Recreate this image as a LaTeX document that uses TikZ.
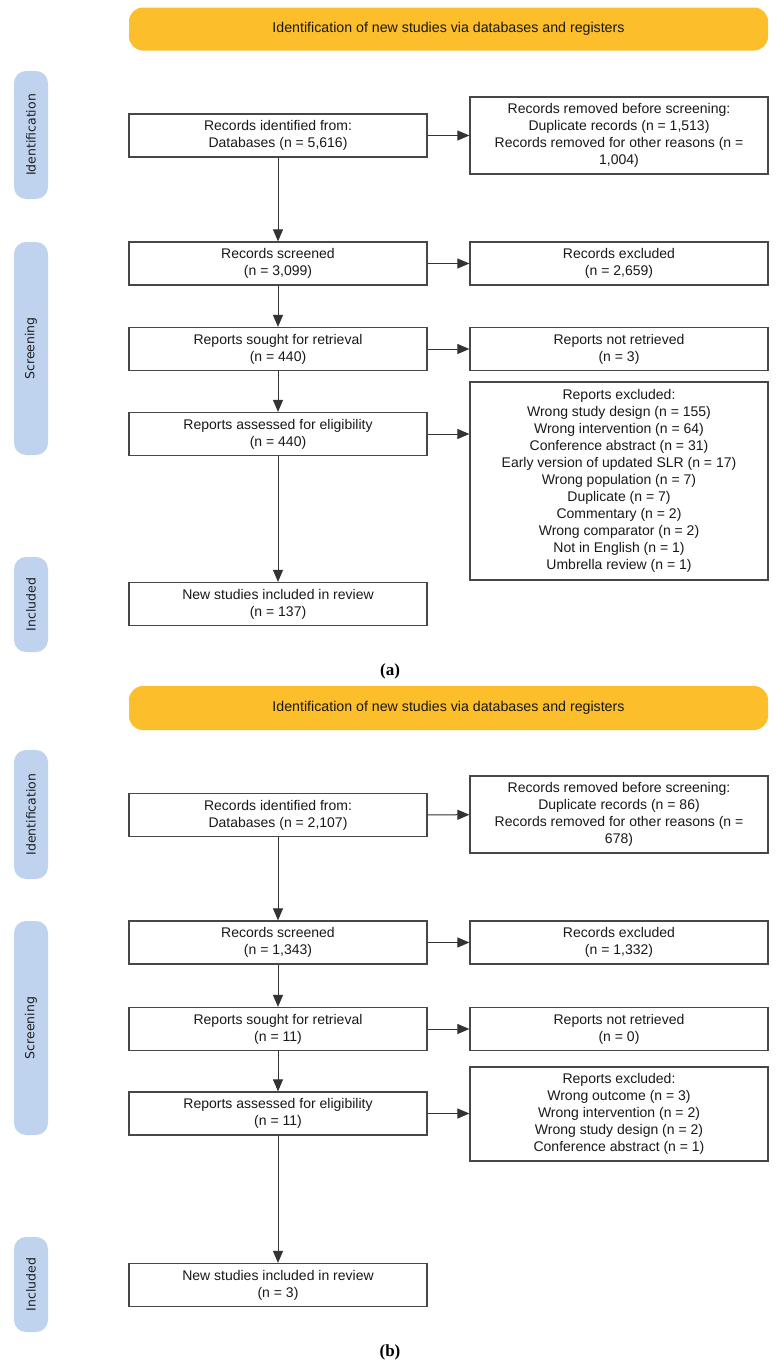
\documentclass[tikz,border=0pt]{standalone}
\usepackage{fontspec}
\setmainfont{Liberation Serif}
\newfontfamily\boxfont{Liberation Sans}
\newfontfamily\sidefont{DejaVu Sans}
\usetikzlibrary{arrows.meta}

\definecolor{headyellow}{RGB}{252,190,42}
\definecolor{sideblue}{RGB}{191,211,239}

\tikzset{
  flowbox/.style={draw=black!72, line width=1.2pt, fill=white, align=center,
    minimum width=298pt, minimum height=43pt, inner sep=2pt, text=black!90,
    font=\fontsize{14}{17}\selectfont\boxfont},
  headbar/.style={fill=headyellow, rounded corners=14pt, minimum width=639pt,
    minimum height=43pt, text=black!90, font=\fontsize{14.2}{17}\selectfont\boxfont},
  sidelabel/.style={fill=sideblue, rounded corners=12pt, rotate=90,
    minimum height=34pt, inner sep=0pt, text=black!88,
    font=\fontsize{12.5}{14}\selectfont\sidefont},
  flow/.style={-{Triangle[length=12pt,width=10pt]}, line width=1pt, draw=black!80},
  caption/.style={font=\fontsize{17}{20}\selectfont\bfseries}
}

\begin{document}
\begin{tikzpicture}[x=1pt, y=-1pt]
  \useasboundingbox (0,0) rectangle (777,1365);

  % (a)
  \node [headbar] (headA) at (448.5,29) {Identification of new studies via databases and registers};
  \node [sidelabel, minimum width=128pt] (idA) at (31,135) {Identification};
  \node [sidelabel, minimum width=213pt] (scrA) at (31,348.5) {Screening};
  \node [sidelabel, minimum width=95pt] (incA) at (31,604.5) {Included};

  \node [flowbox] (recA) at (278,135.5) {Records identified from:\\Databases (n = 5,616)};
  \node [flowbox, minimum height=77pt] (remA) at (619,135.5) {Records removed before screening:\\Duplicate records (n = 1,513)\\Records removed for other reasons (n =\\1,004)};
  \node [flowbox] (screenA) at (278,263.5) {Records screened\\(n = 3,099)};
  \node [flowbox] (exclA) at (619,263.5) {Records excluded\\(n = 2,659)};
  \node [flowbox] (soughtA) at (278,349) {Reports sought for retrieval\\(n = 440)};
  \node [flowbox] (notretA) at (619,349) {Reports not retrieved\\(n = 3)};
  \node [flowbox] (assessA) at (278,434) {Reports assessed for eligibility\\(n = 440)};
  \node [flowbox, minimum height=198pt] (repexA) at (619,481) {Reports excluded:\\Wrong study design (n = 155)\\Wrong intervention (n = 64)\\Conference abstract (n = 31)\\Early version of updated SLR (n = 17)\\Wrong population (n = 7)\\Duplicate (n = 7)\\Commentary (n = 2)\\Wrong comparator (n = 2)\\Not in English (n = 1)\\Umbrella review (n = 1)};
  \node [flowbox] (newA) at (278,604) {New studies included in review\\(n = 137)};
  \node [caption] (capA) at (390,671) {(a)};

  % (b)
  \node [headbar, minimum height=44pt] (headB) at (448.5,708) {Identification of new studies via databases and registers};
  \node [sidelabel, minimum width=129pt] (idB) at (31,814.5) {Identification};
  \node [sidelabel, minimum width=214pt] (scrB) at (31,1028) {Screening};
  \node [sidelabel, minimum width=95pt] (incB) at (31,1284.5) {Included};

  \node [flowbox] (recB) at (278,815) {Records identified from:\\Databases (n = 2,107)};
  \node [flowbox, minimum height=77pt] (remB) at (619,814.5) {Records removed before screening:\\Duplicate records (n = 86)\\Records removed for other reasons (n =\\678)};
  \node [flowbox] (screenB) at (278,942.5) {Records screened\\(n = 1,343)};
  \node [flowbox] (exclB) at (619,942.5) {Records excluded\\(n = 1,332)};
  \node [flowbox] (soughtB) at (278,1029) {Reports sought for retrieval\\(n = 11)};
  \node [flowbox] (notretB) at (619,1029) {Reports not retrieved\\(n = 0)};
  \node [flowbox] (assessB) at (278,1113.5) {Reports assessed for eligibility\\(n = 11)};
  \node [flowbox, minimum height=94pt] (repexB) at (619,1114) {Reports excluded:\\Wrong outcome (n = 3)\\Wrong intervention (n = 2)\\Wrong study design (n = 2)\\Conference abstract (n = 1)};
  \node [flowbox] (newB) at (278,1285) {New studies included in review\\(n = 3)};
  \node [caption] (capB) at (390,1352) {(b)};

  \foreach \p in {A,B} {
    \draw [flow] (rec\p) -- (rem\p);
    \draw [flow] (rec\p) -- (screen\p);
    \draw [flow] (screen\p) -- (excl\p);
    \draw [flow] (screen\p) -- (sought\p);
    \draw [flow] (sought\p) -- (notret\p);
    \draw [flow] (sought\p) -- (assess\p);
    \draw [flow] (assess\p.east) -- (assess\p.east -| repex\p.west);
    \draw [flow] (assess\p) -- (new\p);
  }
\end{tikzpicture}
\end{document}
